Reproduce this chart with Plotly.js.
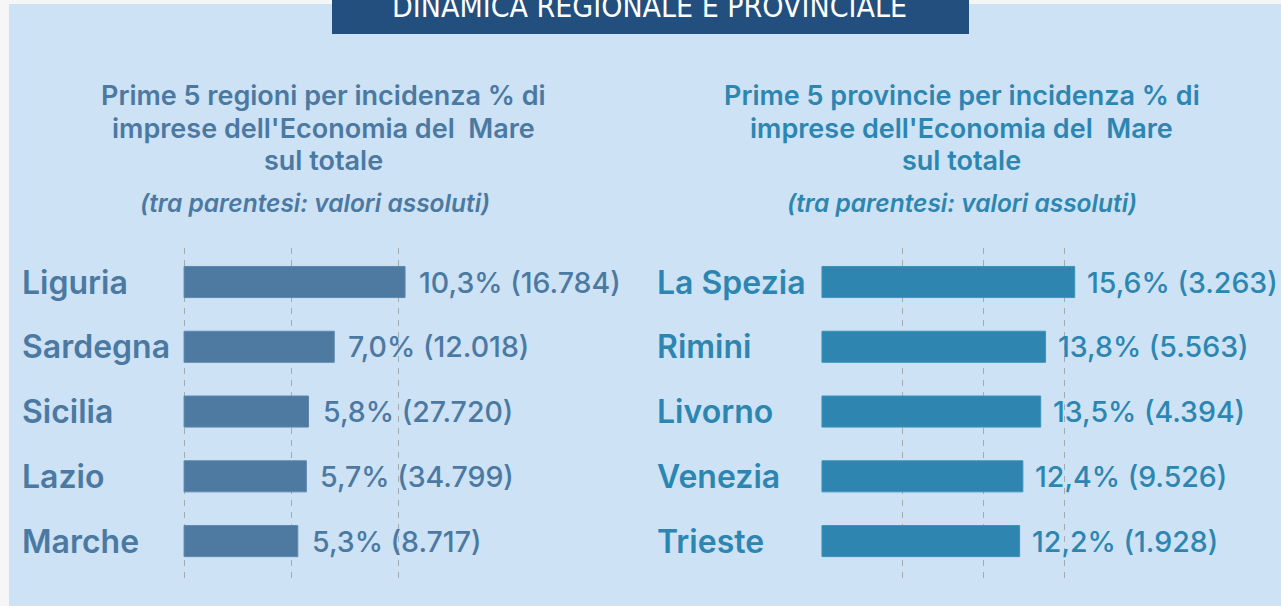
<!DOCTYPE html>
<html>
<head>
<meta charset="utf-8">
<script src="https://cdn.plot.ly/plotly-3.0.1.min.js"></script>
<style>
html,body{margin:0;padding:0;background:#f6f6f6;}
#chart{width:1281px;height:606px;}
</style>
</head>
<body>
<div id="chart"></div>
<script>
// ---- data ----
const regioni = ["Liguria", "Sardegna", "Sicilia", "Lazio", "Marche"];
const regioniPct = [10.3, 7.0, 5.8, 5.7, 5.3];
const regioniAbs = ["16.784", "12.018", "27.720", "34.799", "8.717"];

const province = ["La Spezia", "Rimini", "Livorno", "Venezia", "Trieste"];
const provincePct = [15.6, 13.8, 13.5, 12.4, 12.2];
const provinceAbs = ["3.263", "5.563", "4.394", "9.526", "1.928"];

const bannerText = "DINAMICA REGIONALE E PROVINCIALE";
const titleLeft = ["Prime 5 regioni per incidenza % di", "imprese dell'Economia del  Mare", "sul totale"];
const titleRight = ["Prime 5 provincie per incidenza % di", "imprese dell'Economia del  Mare", "sul totale"];
const subtitle = "(tra parentesi: valori assoluti)";

const leftTicks = [0, 5, 10];
const rightTicks = [0, 5, 10, 15];

// ---- helpers ----
const W = 1281, H = 606;
const px = x => x / W;
const py = y => 1 - y / H;
const fmtPct = v => v.toFixed(1).replace('.', ',') + '%';

const leftColor = '#4b79a2';
const rightColor = '#2c86b1';
const FONT = 'Inter, "Open Sans", sans-serif';

const traces = [
  {
    type: 'bar', orientation: 'h',
    x: regioniPct, y: regioni,
    xaxis: 'x', yaxis: 'y',
    width: 0.48,
    marker: {color: '#4e79a0', line: {color: '#5d88ae', width: 1}},
    hoverinfo: 'none'
  },
  {
    type: 'bar', orientation: 'h',
    x: provincePct, y: province,
    xaxis: 'x2', yaxis: 'y2',
    width: 0.48,
    marker: {color: '#2d85b0', line: {color: '#3c93bc', width: 1}},
    hoverinfo: 'none'
  }
];

const annotations = [];
// banner
annotations.push({
  xref: 'paper', yref: 'paper', x: px(649), y: py(7), xanchor: 'center', yanchor: 'middle',
  text: bannerText, showarrow: false,
  font: {family: '"Liberation Sans Narrow", "DejaVu Sans Condensed", sans-serif', size: 30, color: '#ffffff'}
});
// titles (one annotation per line)
const titleY = [95, 128, 161];
titleLeft.forEach((t, i) => annotations.push({
  xref: 'paper', yref: 'paper', x: px(323), y: py(titleY[i]), xanchor: 'center', yanchor: 'middle',
  text: t, showarrow: false, font: {family: FONT, size: 27, weight: 600, color: leftColor}
}));
titleRight.forEach((t, i) => annotations.push({
  xref: 'paper', yref: 'paper', x: px(962), y: py(titleY[i]), xanchor: 'center', yanchor: 'middle',
  text: t, showarrow: false, font: {family: FONT, size: 27, weight: 600, color: rightColor}
}));
annotations.push({
  xref: 'paper', yref: 'paper', x: px(315), y: py(203), xanchor: 'center', yanchor: 'middle',
  text: subtitle, showarrow: false, font: {family: FONT, size: 24.5, weight: 600, style: 'italic', color: leftColor}
});
annotations.push({
  xref: 'paper', yref: 'paper', x: px(962), y: py(203), xanchor: 'center', yanchor: 'middle',
  text: subtitle, showarrow: false, font: {family: FONT, size: 24.5, weight: 600, style: 'italic', color: rightColor}
});
// category labels
regioni.forEach(c => annotations.push({
  xref: 'paper', yref: 'y', x: px(20), y: c, xanchor: 'left', yanchor: 'middle',
  text: c, showarrow: false, font: {family: FONT, size: 32, weight: 600, color: leftColor}
}));
province.forEach(c => annotations.push({
  xref: 'paper', yref: 'y2', x: px(655), y: c, xanchor: 'left', yanchor: 'middle',
  text: c, showarrow: false, font: {family: FONT, size: 32, weight: 600, color: rightColor}
}));
// value labels
regioni.forEach((c, i) => annotations.push({
  xref: 'x', yref: 'y', x: regioniPct[i], y: c, xanchor: 'left', yanchor: 'middle', xshift: 12,
  text: fmtPct(regioniPct[i]) + ' (' + regioniAbs[i] + ')', showarrow: false,
  font: {family: FONT, size: 28.5, weight: 500, color: leftColor}
}));
province.forEach((c, i) => annotations.push({
  xref: 'x2', yref: 'y2', x: provincePct[i], y: c, xanchor: 'left', yanchor: 'middle', xshift: 10,
  text: fmtPct(provincePct[i]) + ' (' + provinceAbs[i] + ')', showarrow: false,
  font: {family: FONT, size: 28.5, weight: 500, color: rightColor}
}));

const yTop = 248, yBot = 578;
const gridStyle = {
  showgrid: true, gridcolor: '#a3abb3', gridwidth: 1, griddash: '6px,6px',
  zeroline: false, showticklabels: false, ticks: '', showline: false, tickmode: 'array', fixedrange: true
};

const layout = {
  width: W, height: H,
  margin: {l: 0, r: 0, t: 0, b: 0, pad: 0},
  paper_bgcolor: '#f6f6f6',
  plot_bgcolor: 'rgba(0,0,0,0)',
  showlegend: false,
  shapes: [
    {type: 'rect', xref: 'paper', yref: 'paper', x0: px(9), x1: 1, y0: 0, y1: py(4),
     fillcolor: '#cde2f4', line: {width: 0}, layer: 'below'},
    {type: 'rect', xref: 'paper', yref: 'paper', x0: px(332), x1: px(969), y0: py(34), y1: 1.05,
     fillcolor: '#234f7e', line: {width: 0}, layer: 'below'}
  ],
  xaxis: Object.assign({}, gridStyle, {domain: [px(183), px(184 + 15 * 21.46)], range: [-0.05, 15], tickvals: leftTicks}),
  yaxis: {domain: [py(yBot), py(yTop)], range: [4.57, -0.525], type: 'category',
    showgrid: false, zeroline: false, showticklabels: false, ticks: '', showline: false, fixedrange: true},
  xaxis2: Object.assign({}, gridStyle, {domain: [px(821), px(822 + 20 * 16.2)], range: [-0.06, 20], tickvals: rightTicks, anchor: 'y2'}),
  yaxis2: {domain: [py(yBot), py(yTop)], range: [4.57, -0.525], type: 'category', anchor: 'x2',
    showgrid: false, zeroline: false, showticklabels: false, ticks: '', showline: false, fixedrange: true},
  annotations: annotations
};

Plotly.newPlot('chart', traces, layout, {displayModeBar: false, staticPlot: true});
</script>
</body>
</html>
